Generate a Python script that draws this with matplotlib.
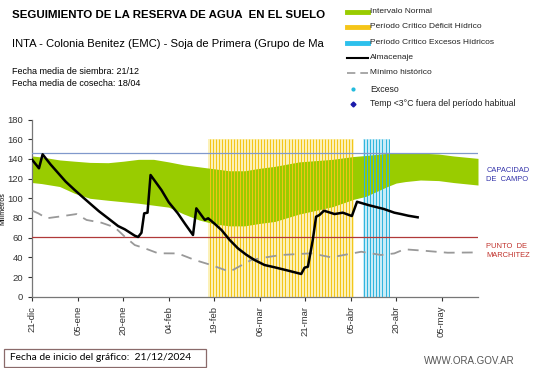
import matplotlib
matplotlib.use("Agg")
import matplotlib.pyplot as plt
from matplotlib.lines import Line2D
from matplotlib.patches import Rectangle
import numpy as np

plt.rcParams['font.family'] = ['Liberation Sans', 'DejaVu Sans']

# ---- datos (dias desde 21-dic) ----
band_days = [0, 3, 9, 14, 19, 25, 30, 35, 40, 45, 50, 55, 60, 65, 70, 75, 80, 88, 99, 106,
             110, 117, 120, 123, 128, 134, 139, 147]
band_upper = [143, 142, 139, 137.7, 136.5, 136.2, 137.7, 139.6, 139.6, 137, 134, 132, 130, 128,
              128, 130.5, 132.5, 137, 139.6, 142.5, 143.5, 145.7, 146, 146.3, 146, 145, 143, 140.6]
band_lower = [116, 115, 112, 105, 100, 98, 96.5, 95, 93, 91, 84, 78, 74, 72,
              72, 74.5, 76.5, 84, 91.5, 99, 102, 111.8, 115.5, 117, 118.6, 118, 116, 113.5]

alm_days = [0, 2.2, 3.4, 6, 8.6, 11, 14, 17, 19.6, 22, 25, 28.3, 30.5, 33.8, 34.9, 36, 36.9,
            38, 39, 42.6, 45, 48, 50.5, 53, 54.1, 56.9, 58, 60, 62.4, 65, 67.8, 70.5, 73.3,
            76.6, 79.9, 84, 88.7, 89.8, 90.9, 92.5, 93.6, 94.7, 96.2, 99.7, 102.4, 105.4, 107.1,
            111, 116, 119.4, 121.6, 124, 127.1]
alm_vals = [139, 130.5, 144.7, 134.5, 125.4, 117, 108.4, 100.2, 93.2, 86.8, 79.7, 71.8, 68.5,
            62, 60.7, 65, 84.7, 85.4, 123.7, 108.4, 96, 84.7, 73.5, 62.7, 89.8, 78, 79.7, 74.5,
            67.8, 58, 49.2, 42.8, 37.3, 32.2, 29.9, 26.8, 23.1, 29.5, 30.5, 57.6, 81.3, 83,
            87.4, 84, 85.4, 82, 96.5, 93, 89.1, 85.4, 84, 82.3, 80.7]

min_days = [0, 2, 4.7, 8.6, 14.6, 17.9, 22.8, 27.2, 30.5, 33.8, 37.1, 41.5, 48, 53.6, 59, 65.1,
            72.2, 78, 82.1, 92, 98.6, 108.5, 115, 119.4, 122.7, 129.3, 137, 146.8]
min_vals = [87.4, 84.7, 79.7, 81.3, 84, 78, 75.2, 70.5, 61, 52.5, 49.2, 44.1, 44, 37.3, 32.2, 25.4,
            37.3, 40.5, 42.4, 44.1, 40, 45.7, 42.4, 44, 48.2, 46.7, 44.7, 45]

deficit_days = list(range(58, 106))
exceso_days = list(range(109, 118))
critico_alto = 160

capacidad_campo = 146.5
punto_marchitez = 61

tick_days = [0, 15, 30, 45, 60, 75, 90, 105, 120, 135]
tick_labels = ['21-dic', '05-ene', '20-ene', '04-feb', '19-feb', '06-mar', '21-mar', '05-abr',
               '20-abr', '05-may']

W, H = 541, 368
fig = plt.figure(figsize=(W / 100, H / 100), dpi=100)
ax = fig.add_axes([32.3 / W, 1 - 296.7 / H, (478 - 32.3) / W, (296.7 - 119.6) / H])

# periodos criticos: fondo palido debajo de la banda, lineas encima
ax.bar(deficit_days, [critico_alto] * len(deficit_days), width=1, align='edge',
       color='#FCF1B8', zorder=1)
ax.bar(exceso_days, [critico_alto] * len(exceso_days), width=1, align='edge',
       color='#C8ECF7', zorder=1)
ax.fill_between(band_days, band_lower, band_upper, color='#99CC00', lw=0, zorder=2)
ax.vlines(np.array(deficit_days) + 0.5, 0, critico_alto, color='#F3C514', lw=0.7, zorder=3)
ax.vlines(np.array(exceso_days) + 0.5, 0, critico_alto, color='#2DB4DE', lw=0.7, zorder=3)

ax.axhline(capacidad_campo, color='#8099CC', lw=0.9, zorder=4)
ax.axhline(punto_marchitez, color='#B03A3A', lw=0.9, zorder=4)

ax.plot(min_days, min_vals, color='#999999', lw=1.3, dashes=(6, 4), zorder=5)
ax.plot(alm_days, alm_vals, color='black', lw=1.8, zorder=6)

ax.set_xlim(0, 147)
ax.set_ylim(0, 180)
ax.set_yticks(range(0, 181, 20))
ax.set_xticks(tick_days)
ax.set_xticklabels(tick_labels, rotation=90)
ax.tick_params(axis='both', labelsize=6.8, colors='#333333', length=3, width=0.8)
for s in ['top', 'right']:
    ax.spines[s].set_visible(False)
for s in ['left', 'bottom']:
    ax.spines[s].set_color('#777777')
    ax.spines[s].set_linewidth(0.9)
ax.set_ylabel('Milímetros', fontsize=5, labelpad=1)

# textos de cabecera
fig.text(12 / W, 1 - 15 / H, 'SEGUIMIENTO DE LA RESERVA DE AGUA  EN EL SUELO', fontsize=8.25,
         fontweight='bold', va='center', ha='left')
fig.text(12 / W, 1 - 44 / H, 'INTA - Colonia Benitez (EMC) - Soja de Primera (Grupo de Ma',
         fontsize=8.1, va='center', ha='left')
fig.text(12 / W, 1 - 71.7 / H, 'Fecha media de siembra: 21/12', fontsize=6.5, va='center')
fig.text(12 / W, 1 - 83.3 / H, 'Fecha media de cosecha: 18/04', fontsize=6.5, va='center')

# leyenda
leg_y = [11.7, 26.5, 42.5, 57.5, 72.7, 89.3, 104]
x0, x1, tx = 346.7, 368.3, 369.5
def fx(v):
    return v / W
def fy(v):
    return 1 - v / H
fig.add_artist(Line2D([fx(x0), fx(x1)], [fy(leg_y[0])] * 2, color='#99CC00', lw=3.5))
fig.add_artist(Line2D([fx(x0), fx(x1)], [fy(leg_y[1])] * 2, color='#F5C518', lw=3.5))
fig.add_artist(Line2D([fx(x0), fx(x1)], [fy(leg_y[2])] * 2, color='#2DC0EC', lw=3.5))
fig.add_artist(Line2D([fx(x0), fx(x1)], [fy(leg_y[3])] * 2, color='black', lw=1.5))
fig.add_artist(Line2D([fx(x0), fx(x1)], [fy(leg_y[4])] * 2, color='#999999', lw=1.2,
                      dashes=(5, 3)))
fig.add_artist(Line2D([fx(353)], [fy(leg_y[5])], marker='o', ms=2, color='#22BBDD', lw=0))
fig.add_artist(Line2D([fx(353)], [fy(leg_y[6])], marker='D', ms=2.5, color='#1A1AAA', lw=0))
leg_txt = ['Intervalo Normal', 'Período Crítico Déficit Hídrico',
           'Período Crítico Excesos Hídricos', 'Almacenaje', 'Mínimo histórico', 'Exceso',
           'Temp <3°C fuera del período habitual']
for i, t in enumerate(leg_txt):
    fs = 6.0 if i < 5 else 6.3
    xx = tx if i < 5 else 370
    fig.text(fx(xx), fy(leg_y[i]), t, fontsize=fs, va='center', color='#222222')

# etiquetas de lineas de referencia
fig.text(fx(486.5), fy(175), 'CAPACIDAD\nDE  CAMPO', fontsize=5.4, color='#3333AA',
         va='center', linespacing=1.3)
fig.text(fx(486.5), fy(251), 'PUNTO  DE\nMARCHITEZ', fontsize=5.4, color='#C0302A',
         va='center', linespacing=1.3)

# pie
fig.add_artist(Rectangle((fx(3.5), fy(367)), fx(202), 18 / H, fill=False,
                         edgecolor='#8A6A6A', lw=0.9))
fig.text(fx(10), fy(358), 'Fecha de inicio del gráfico:  21/12/2024', fontsize=7.35,
         family=['Lato', 'DejaVu Sans'], va='center')
fig.text(fx(424), fy(361), 'WWW.ORA.GOV.AR', fontsize=7, color='#555555', va='center')

fig.savefig('out.png', dpi=100)
